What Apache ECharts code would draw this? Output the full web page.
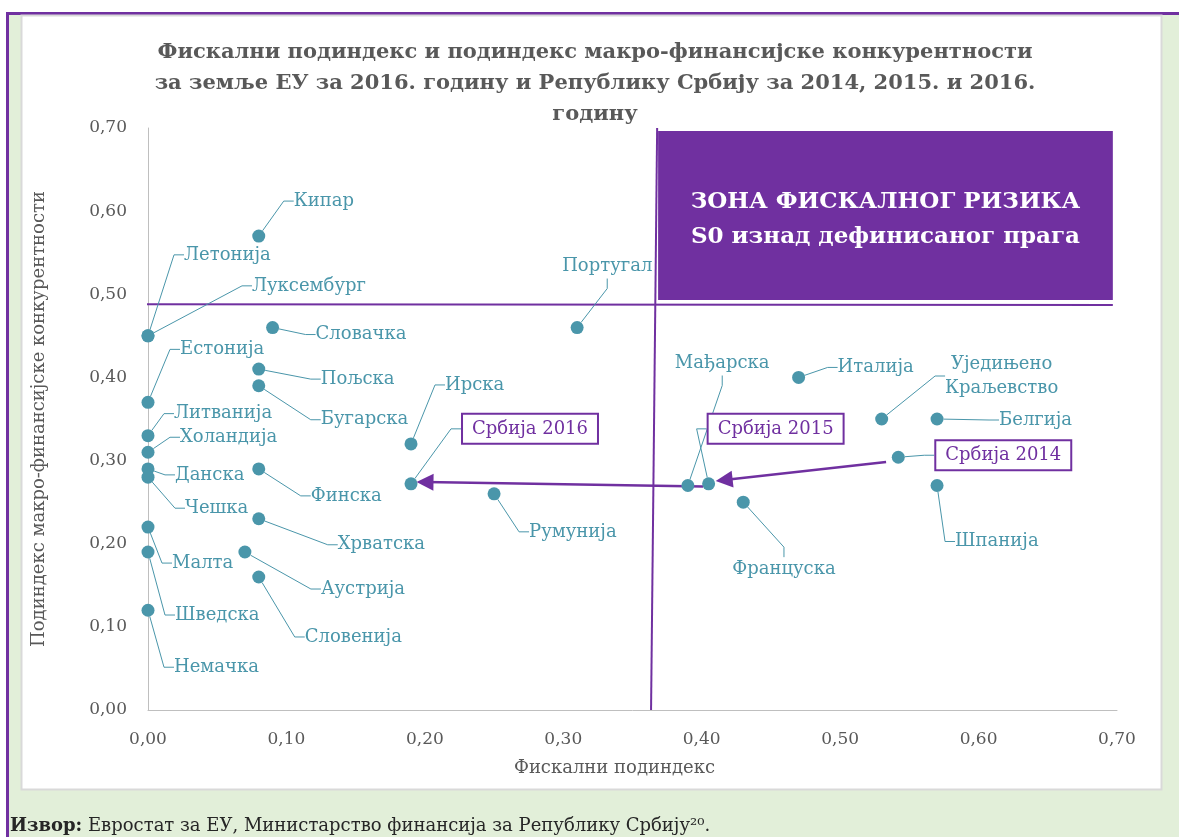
<!DOCTYPE html>
<html><head><meta charset="utf-8">
<script src="https://cdn.jsdelivr.net/npm/echarts@6/dist/echarts.min.js"></script>
<style>html,body{margin:0;padding:0;width:1179px;height:837px;overflow:hidden;background:#fff}#c{width:1179px;height:837px}</style>
</head><body><div id="c"></div>
<script>
// ---------- data ----------
const countries = ['Кипар','Летонија','Луксембург','Словачка','Естонија','Пољска','Бугарска','Литванија','Холандија','Данска','Чешка','Финска','Хрватска','Малта','Шведска','Немачка','Аустрија','Словенија','Ирска','Португал','Румунија','Мађарска','Француска','Италија','Уједињено\nКраљевство','Белгија','Шпанија'];
const fiscalSub = [0.08,0,0,0.09,0,0.08,0.08,0,0,0,0,0.08,0.08,0,0,0,0.07,0.08,0.19,0.31,0.25,0.39,0.43,0.47,0.53,0.57,0.57];
const macroSub  = [0.57,0.45,0.45,0.46,0.37,0.41,0.39,0.33,0.31,0.29,0.28,0.29,0.23,0.22,0.19,0.12,0.19,0.16,0.32,0.46,0.26,0.27,0.25,0.40,0.35,0.35,0.27];
const serbiaNames  = ['Србија 2014','Србија 2015','Србија 2016'];
const serbiaFiscal = [0.542,0.405,0.19];
const serbiaMacro  = [0.304,0.272,0.272];
const thresholdMacro  = [[-0.005,0.488],[0.697,0.487]];
const thresholdFiscal = [[0.3634,0],[0.3678,0.70]];
const riskZone = [[0.3685,0.6964],[0.697,0.4931]];
const arrowSegments = [[[0.5332,0.2983],[0.4162,0.2766]],[[0.401,0.2688],[0.2001,0.2742]]];
const tickLabels = ['0,00','0,10','0,20','0,30','0,40','0,50','0,60','0,70'];
const titleText = 'Фискални подиндекс и подиндекс макро-финансијске конкурентности\nза земље ЕУ за 2016. годину и Републику Србију за 2014, 2015. и 2016.\nгодину';
const xName = 'Фискални подиндекс';
const yName = 'Подиндекс макро-финансијске конкурентности';
const zoneText = 'ЗОНА ФИСКАЛНОГ РИЗИКА\nS0 изнад дефинисаног прага';
const sourceText = '{b|Извор:} Евростат за ЕУ, Министарство финансија за Републику Србију²⁰.';

// ---------- label placement (pixel offsets from point) ----------
const labelPos = {
 'Кипар':[35,-35],'Летонија':[36,-81],'Луксембург':[104,-50],'Словачка':[43,7],'Естонија':[32,-53],
 'Пољска':[62,10],'Бугарска':[62,34],'Литванија':[26,-22],'Холандија':[32,-15],'Данска':[27,6],
 'Чешка':[37,31],'Финска':[52,27],'Хрватска':[79,26],'Малта':[24,36],'Шведска':[27,63],'Немачка':[26,57],
 'Аустрија':[76,37],'Словенија':[46,60],'Ирска':[34,-59],'Португал':[-15,-61],'Румунија':[35,38],
 'Мађарска':[-13,-122],'Француска':[-11,67],'Италија':[39,-10],'Уједињено\nКраљевство':[120,-43,'center'],
 'Белгија':[62,1],'Шпанија':[18,56],
 'Србија 2014':[38,-2],'Србија 2015':[0,-55],'Србија 2016':[52,-55]
};

const FONT = '"DejaVu Serif", serif';
const TEAL = '#4A96AA';
const PURPLE = '#7030A0';
const GRAY = '#595959';

function layoutFor(names){
  return function(p){
    const o = labelPos[names[p.dataIndex]];
    if(!o) return {};
    const cx = p.rect.x + p.rect.width/2, cy = p.rect.y + p.rect.height/2;
    return {x: cx + o[0], y: cy + o[1], align: o[2] || 'left', verticalAlign: 'middle'};
  };
}

const euData = countries.map((n,i)=>({name:n, value:[fiscalSub[i], macroSub[i]]}));
const rsData = serbiaNames.map((n,i)=>({name:n, value:[serbiaFiscal[i], serbiaMacro[i]]}));
const fmt = (v, i) => tickLabels[i] !== undefined ? tickLabels[i] : v.toFixed(2).replace('.', ',');

const chart = echarts.init(document.getElementById('c'), null, {renderer:'canvas'});
chart.setOption({
  animation:false,
  backgroundColor:'#ffffff',
  graphic:[
    {type:'rect', z:-100, shape:{x:0,y:0,width:1179,height:837}, style:{fill:'#ffffff'}},
    {type:'rect', z:-99, shape:{x:9,y:15,width:1170,height:822}, style:{fill:'#E2EFD9'}},
    {type:'rect', z:-98, shape:{x:6,y:12,width:3,height:825}, style:{fill:PURPLE}},
    {type:'rect', z:-98, shape:{x:6,y:12,width:1173,height:3}, style:{fill:PURPLE}},
    {type:'rect', z:-97, shape:{x:21.5,y:15.5,width:1140,height:774}, style:{fill:'#ffffff', stroke:'#D9D9D9', lineWidth:2}},
    {type:'text', z:10, x:10, y:826, style:{text:sourceText, fill:'#262626', font:'18px '+FONT, verticalAlign:'middle',
      rich:{b:{fontWeight:'bold', fontSize:18, fontFamily:FONT, fill:'#262626'}}}}
  ],
  title:{
    text:titleText, left:590, top:32, textAlign:'center',
    textStyle:{fontFamily:FONT, fontSize:21, fontWeight:'bold', color:GRAY, lineHeight:31}
  },
  grid:{left:148, right:62, top:128, bottom:127, containLabel:false},
  xAxis:{
    type:'value', min:0, max:0.7, interval:0.1,
    name:xName, nameLocation:'middle', nameGap:49,
    nameTextStyle:{fontFamily:FONT, fontSize:18, color:GRAY, padding:[0,36,0,0]},
    axisLine:{show:true, lineStyle:{color:'#BFBFBF', width:1}},
    axisTick:{show:false}, splitLine:{show:false},
    axisLabel:{fontFamily:FONT, fontSize:17, color:GRAY, margin:21, formatter:fmt}
  },
  yAxis:{
    type:'value', min:0, max:0.7, interval:0.1,
    name:yName, nameLocation:'middle', nameGap:100, nameRotate:90,
    nameTextStyle:{fontFamily:FONT, fontSize:18, color:GRAY},
    axisLine:{show:true, lineStyle:{color:'#BFBFBF', width:1}},
    axisTick:{show:false}, splitLine:{show:false},
    axisLabel:{fontFamily:FONT, fontSize:17, color:GRAY, margin:21, formatter:fmt}
  },
  series:[
    {type:'line', data:thresholdMacro, symbol:'none', clip:false, silent:true, z:3,
     lineStyle:{color:PURPLE, width:2},
     markArea:{silent:true, itemStyle:{color:PURPLE},
       label:{show:true, position:'inside', offset:[0,4], formatter:zoneText, color:'#ffffff', fontFamily:FONT, fontSize:23, fontWeight:'bold', lineHeight:35},
       data:[[{coord:riskZone[0]},{coord:riskZone[1]}]]}},
    {type:'line', data:thresholdFiscal, symbol:'none', clip:false, silent:true, z:3,
     lineStyle:{color:PURPLE, width:2}},
    {type:'lines', coordinateSystem:'cartesian2d', silent:true, z:4,
     symbol:['none','triangle'], symbolSize:[14,17],
     lineStyle:{color:PURPLE, width:2.5, opacity:1, curveness:0},
     data:arrowSegments.map(s=>({coords:s}))},
    {type:'scatter', name:'EU', data:euData, symbol:'circle', symbolSize:13, z:6,
     itemStyle:{color:TEAL, opacity:1},
     label:{show:true, formatter:'{b}', fontFamily:FONT, fontSize:18, color:TEAL, lineHeight:24},
     labelLine:{show:true, length2:10, lineStyle:{color:TEAL, width:1}},
     labelLayout:layoutFor(countries)},
    {type:'scatter', name:'RS', data:rsData, symbol:'circle', symbolSize:13, z:6,
     itemStyle:{color:TEAL, opacity:1},
     label:{show:true, formatter:'{b}', fontFamily:FONT, fontSize:18, color:PURPLE,
       borderColor:PURPLE, borderWidth:2, padding:[5,9], backgroundColor:'#ffffff'},
     labelLine:{show:true, length2:10, lineStyle:{color:TEAL, width:1}},
     labelLayout:layoutFor(serbiaNames)}
  ]
});
</script></body></html>
